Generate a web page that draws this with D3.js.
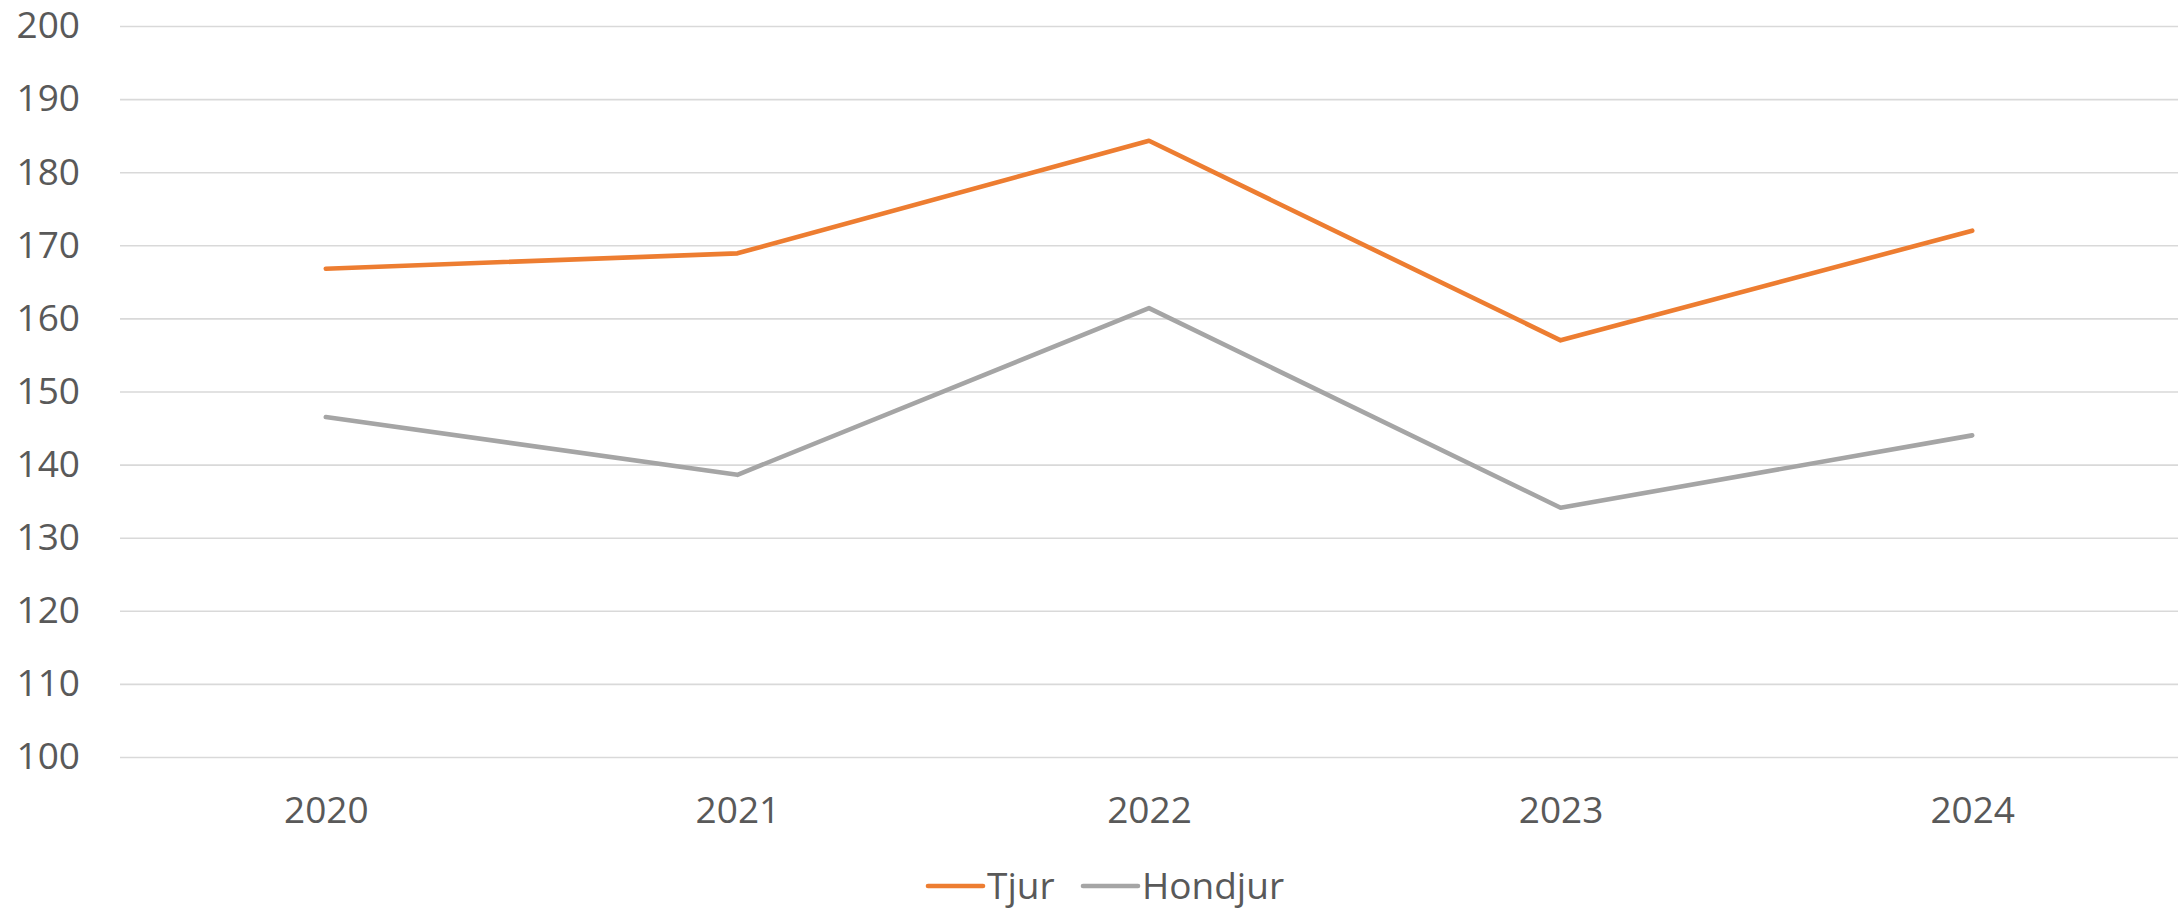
<!DOCTYPE html>
<html>
<head>
<meta charset="utf-8">
<script src="https://cdn.jsdelivr.net/npm/d3@7"></script>
<style>
  html, body { margin: 0; padding: 0; background: #fff; }
  svg { display: block; }
</style>
</head>
<body>
<script>
const width = 2182, height = 909;

const years = ["2020", "2021", "2022", "2023", "2024"];
const tjur = [166.8, 168.9, 184.3, 157.0, 172.0];
const hondjur = [146.5, 138.6, 161.4, 134.1, 144.0];

const seriesNames = ["Tjur", "Hondjur"];
const seriesColors = ["#ED7D31", "#A5A5A5"];

const font = "'Open Sans', sans-serif";
const margin = {top: 26, right: 4, bottom: 152, left: 120};

const svg = d3.select("body").append("svg")
    .attr("width", width)
    .attr("height", height)
    .attr("font-family", font)
    .attr("font-size", 37);

const x = d3.scalePoint()
    .domain(years)
    .range([margin.left, width - margin.right])
    .padding(0.5);

const y = d3.scaleLinear()
    .domain([100, 200])
    .range([height - margin.bottom, margin.top]);

// gridlines + y labels
const yAxis = svg.append("g")
    .attr("transform", `translate(${margin.left},0)`)
    .call(d3.axisLeft(y).ticks(10).tickSize(-(width - margin.left - margin.right)).tickPadding(40))
    .attr("font-family", font)
    .attr("font-size", 37);

yAxis.select(".domain").remove();
yAxis.selectAll(".tick line")
    .attr("stroke", "#D9D9D9")
    .attr("stroke-width", 1.6);
yAxis.selectAll(".tick text")
    .attr("fill", "#595959");

// x labels
const xAxis = svg.append("g")
    .attr("transform", `translate(0,${height - margin.bottom})`)
    .call(d3.axisBottom(x).tickSize(0).tickPadding(40))
    .attr("font-family", font)
    .attr("font-size", 37);

xAxis.select(".domain").remove();
xAxis.selectAll(".tick text")
    .attr("fill", "#595959");

const line = d3.line()
    .x((d, i) => x(years[i]))
    .y(d => y(d));

svg.append("g")
    .attr("fill", "none")
    .attr("stroke-width", 4.6)
    .attr("stroke-linecap", "round")
    .attr("stroke-linejoin", "round")
    .selectAll("path")
    .data([tjur, hondjur])
    .enter().append("path")
    .attr("stroke", (d, i) => seriesColors[i])
    .attr("d", line);

// legend
const legendY = 886;
const legendX = [928, 1083];

const legend = svg.append("g")
    .selectAll("g")
    .data(seriesNames)
    .enter().append("g")
    .attr("transform", (d, i) => `translate(${legendX[i]},${legendY})`);

legend.append("line")
    .attr("x1", 0)
    .attr("x2", 55)
    .attr("stroke", (d, i) => seriesColors[i])
    .attr("stroke-width", 4.6)
    .attr("stroke-linecap", "round");

legend.append("text")
    .attr("x", 59)
    .attr("dy", "0.35em")
    .attr("fill", "#595959")
    .text(d => d);
</script>
</body>
</html>
